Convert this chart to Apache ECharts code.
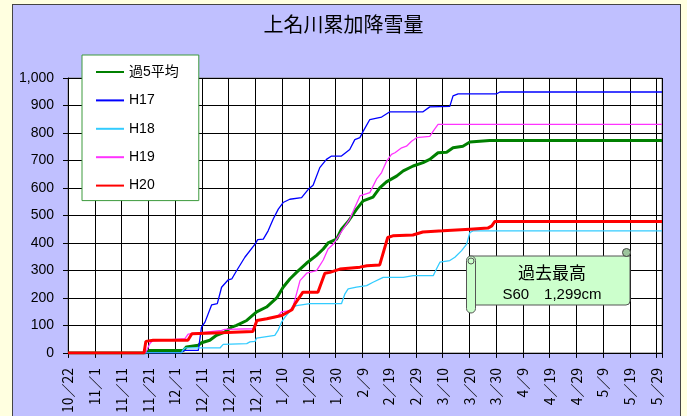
<!DOCTYPE html>
<html>
<head>
<meta charset="utf-8">
<script src="https://cdn.jsdelivr.net/npm/echarts@6/dist/echarts.min.js"></script>
<style>
    body { margin: 0; background: #FFFFE0; }
    #frame {
        position: absolute; left: 12px; top: 4px; width: 667px; height: 430px;
        background: #C0C0FF; border: 1px solid #444;
    }
    #chart { position: absolute; left: 0; top: 0; width: 687px; height: 416px; }
</style>
</head>
<body>
<div id="frame"></div>
<div id="chart"></div>
<script>
    // 横軸は 10/22 からの日数 (0 .. 222 = 5/31)
    const dateLabels = ['10/22', '11/1', '11/11', '11/21', '12/1', '12/11', '12/21', '12/31',
        '1/10', '1/20', '1/30', '2/9', '2/19', '2/29', '3/10', '3/20', '3/30',
        '4/9', '4/19', '4/29', '5/9', '5/19', '5/29'];
    const yTicks = [0, 100, 200, 300, 400, 500, 600, 700, 800, 900, 1000];
    const seriesNames = ['過5平均', 'H17', 'H18', 'H19', 'H20'];

    // [日数, 累加降雪量cm] 図から読み取り
    const avg5 = [[0, 0], [28.8, 0], [30.6, 9], [43.1, 9], [44.3, 22], [48.7, 28], [49.9, 37], [53, 46],
        [55.5, 64], [58.6, 76], [61.2, 94], [63, 100], [66.8, 118], [70.5, 149], [74.2, 167], [78, 200],
        [80.4, 239], [82.9, 269], [85.4, 293], [89.2, 327], [92.9, 355], [95.4, 378], [97.2, 400],
        [100.4, 414], [102.2, 450], [104.7, 478], [107.8, 522], [110.3, 553], [114, 567], [116.5, 600],
        [119, 622], [122.8, 643], [125.3, 662], [129, 680], [132.7, 692], [135.2, 704], [138.3, 728],
        [141.5, 730], [143.9, 746], [147.6, 752], [150.2, 767], [157.6, 773], [222, 773]];
    const h17 = [[0, 0], [42, 0], [43.5, 9], [48.7, 9], [49.9, 94], [51.2, 112], [53.7, 175], [55.8, 179],
        [57.4, 239], [59.9, 266], [61.2, 269], [63, 299], [66.1, 348], [69.9, 396], [70.9, 412], [73, 414],
        [74.8, 444], [76.7, 487], [78.6, 523], [80.4, 547], [82.9, 559], [87.3, 565], [89.8, 595],
        [91.6, 610], [94.1, 674], [96.6, 704], [98.5, 716], [102.2, 716], [105.3, 740], [107.2, 776],
        [109.1, 783], [110.3, 806], [112.8, 849], [117.2, 858], [120.3, 877], [132.7, 877], [135.2, 895],
        [142.7, 897], [143.9, 935], [145.8, 942], [160.1, 942], [161.4, 949], [222, 949]];
    const h18 = [[0, 0], [42.5, 0], [42.8, 9], [43.7, 18], [56.8, 18], [58, 31], [66.8, 34], [68, 40],
        [69.9, 42], [70.5, 54], [77.3, 64], [78.6, 84], [79.8, 112], [81.1, 130], [84.2, 167], [85.4, 172],
        [90.4, 179], [102.2, 179], [103.5, 215], [104.7, 233], [107.8, 239], [111.6, 245], [114, 257],
        [117.8, 275], [125.3, 275], [129, 281], [136.5, 281], [137.7, 305], [139, 330], [142.7, 336],
        [144.6, 348], [147.1, 372], [149, 396], [150.2, 438], [151.4, 444], [222, 444]];
    const h19 = [[0, 0], [28.8, 0], [29.4, 9], [30.6, 34], [31.5, 43], [43.7, 52], [44.9, 68], [57.4, 82],
        [58.6, 86], [69.2, 88], [70.5, 118], [78, 130], [79.8, 149], [82.9, 154], [84.2, 172], [85.4, 215],
        [86.7, 263], [89.2, 290], [92.9, 299], [95.4, 338], [97.2, 378], [99.1, 395], [101.6, 432],
        [105.3, 487], [109.1, 571], [112.8, 583], [115.3, 632], [117.2, 656], [119.1, 698], [120.9, 722],
        [122.2, 728], [124.7, 746], [126.5, 752], [128.4, 770], [130.3, 783], [135.2, 788], [136.5, 807],
        [138.3, 831], [222, 831]];
    const h20 = [[0, 0], [28.4, 0], [29.1, 42], [31.8, 46], [44.8, 46], [46.3, 70], [59.4, 74], [69.1, 78],
        [70.6, 118], [74.3, 124], [79.9, 136], [83.7, 157], [84.8, 178], [87.8, 221], [93.4, 221], [96, 290],
        [97.9, 293], [101.6, 305], [109.1, 312], [111.7, 317], [116.5, 320], [119.5, 420], [121.4, 426],
        [128.9, 429], [132.6, 440], [140.1, 444], [150.2, 450], [156.9, 454], [158.4, 462], [159.5, 478],
        [222, 478]];

    const seriesData = [avg5, h17, h18, h19, h20];
    const colors = ['#008000', '#0000FF', '#33CCFF', '#FF33FF', '#FF0000'];
    const widths = [3, 1.3, 1.3, 1.3, 3];

    const latin = "'Liberation Sans', 'Noto Sans CJK JP', sans-serif";
    const jp = "'Noto Sans CJK JP', sans-serif";

    let monEchart = echarts.init(document.getElementById('chart'));

    const series = [];
    for (let i = 0; i < seriesNames.length; i++) {
        series.push({
            name: seriesNames[i],
            type: 'line',
            symbol: 'none',
            data: seriesData[i],
            itemStyle: { color: colors[i] },
            lineStyle: { color: colors[i], width: widths[i] }
        });
    }

    const option = {
        animation: false,
        backgroundColor: 'transparent',
        title: {
            text: '上名川累加降雪量',
            left: 'center',
            top: 9,
            textStyle: { fontFamily: jp, fontSize: 20, fontWeight: 'normal', color: '#000' }
        },
        legend: {
            orient: 'vertical',
            left: 82,
            top: 55,
            data: seriesNames,
            itemWidth: 28,
            itemHeight: 14,
            itemGap: 14.4,
            padding: [10, 20, 8, 13],
            backgroundColor: '#fff',
            borderColor: '#3c9a3c',
            borderWidth: 1,
            borderRadius: 0,
            itemStyle: { opacity: 0 },
            textStyle: { fontFamily: latin, fontSize: 14, color: '#000' }
        },
        grid: {
            left: 68,
            top: 78,
            width: 594,
            height: 276,
            show: true,
            backgroundColor: '#fff',
            borderColor: '#888',
            borderWidth: 1
        },
        xAxis: {
            type: 'value',
            min: 0,
            max: 222,
            interval: 10,
            axisLine: { show: true, onZero: false, lineStyle: { color: '#000', width: 1 } },
            axisTick: { show: true, inside: false, length: 5, lineStyle: { color: '#000' } },
            splitLine: { show: true, lineStyle: { color: '#000', width: 1 } },
            axisLabel: {
                rotate: 90,
                margin: 15,
                fontFamily: jp,
                fontSize: 14,
                color: '#000',
                formatter: function (v) {
                    if (v % 10 !== 0) return '';
                    const s = dateLabels[v / 10];
                    return s ? s.replace('/', '／') : '';
                }
            }
        },
        yAxis: {
            type: 'value',
            min: yTicks[0],
            max: yTicks[yTicks.length - 1],
            interval: 100,
            axisLine: { show: true, lineStyle: { color: '#000', width: 1 } },
            axisTick: { show: true, inside: false, length: 5, lineStyle: { color: '#000' } },
            splitLine: { show: true, lineStyle: { color: '#000', width: 1 } },
            axisLabel: {
                margin: 14,
                fontFamily: latin,
                fontSize: 14,
                color: '#000',
                formatter: function (v) { return v.toLocaleString('en-US'); }
            }
        },
        graphic: [
            // 過去最高の巻物
            {
                type: 'rect', z: 100,
                shape: { x: 470, y: 256, width: 160, height: 49, r: [0, 0, 4, 0] },
                style: { fill: '#CCFFCC', stroke: '#555', lineWidth: 1 }
            },
            {
                type: 'rect', z: 101,
                shape: { x: 466.5, y: 256, width: 9, height: 57, r: 4.5 },
                style: { fill: '#CCFFCC', stroke: '#555', lineWidth: 1 }
            },
            {
                type: 'circle', z: 102,
                shape: { cx: 471, cy: 261, r: 3 },
                style: { fill: '#CCFFCC', stroke: '#555', lineWidth: 1 }
            },
            {
                type: 'circle', z: 101,
                shape: { cx: 626.5, cy: 252.5, r: 4 },
                style: { fill: '#9CC49C', stroke: '#444', lineWidth: 1 }
            },
            {
                type: 'text', z: 103, x: 552, y: 273,
                style: { text: '過去最高', font: "17px 'Noto Sans CJK JP', sans-serif", fill: '#000', align: 'center', verticalAlign: 'middle' }
            },
            {
                type: 'text', z: 103, x: 552, y: 295,
                style: { text: 'S60　1,299cm', font: "15px 'Liberation Sans', 'Noto Sans CJK JP', sans-serif", fill: '#000', align: 'center', verticalAlign: 'middle' }
            }
        ],
        series: series
    };

    monEchart.setOption(option);
</script>
</body>
</html>
